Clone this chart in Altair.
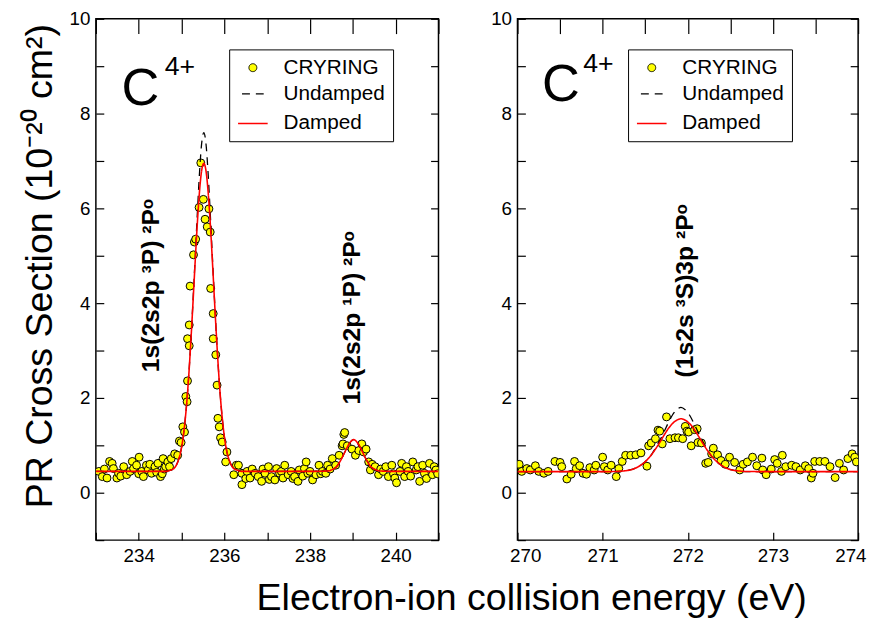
import altair as alt
import pandas as pd

FONT = "Liberation Sans"
SERIES = ["CRYRING", "Undamped", "Damped"]

# ---------------- Left panel data (233-241 eV) ----------------
left_pts_x = [233.07, 233.15, 233.20, 233.26, 233.32, 233.38, 233.41, 233.49, 233.53, 233.58,
              233.65, 233.72, 233.80, 233.85, 233.88, 233.95, 234.00, 234.01, 234.07, 234.11,
              234.18, 234.22, 234.26, 234.30, 234.38, 234.42, 234.45, 234.51, 234.55, 234.57,
              234.60, 234.63, 234.68, 234.72, 234.76, 234.84, 234.91, 234.95, 234.99, 235.03,
              235.07, 235.10, 235.13, 235.14, 235.14, 235.18, 235.18, 235.20, 235.28, 235.30,
              235.33, 235.41, 235.45, 235.51, 235.55, 235.60, 235.64, 235.67, 235.68, 235.74,
              235.74, 235.80, 235.83, 235.85, 235.88, 235.91, 235.95, 236.03, 236.06, 236.22,
              236.28, 236.33, 236.41, 236.41, 236.50, 236.53, 236.60, 236.65, 236.72, 236.79,
              236.87, 236.90, 236.95, 237.03, 237.05, 237.10, 237.18, 237.22, 237.29, 237.33,
              237.37, 237.41, 237.49, 237.56, 237.60, 237.64, 237.72, 237.75, 237.83, 237.87,
              237.91, 237.95, 238.00, 238.06, 238.14, 238.21, 238.25, 238.29, 238.37, 238.41,
              238.47, 238.52, 238.60, 238.68, 238.75, 238.77, 238.79, 238.81, 238.87, 238.98,
              239.06, 239.14, 239.21, 239.25, 239.31, 239.37, 239.41, 239.45, 239.52, 239.60,
              239.65, 239.71, 239.77, 239.83, 239.91, 239.95, 239.98, 240.02, 240.10, 240.14,
              240.21, 240.25, 240.29, 240.35, 240.40, 240.48, 240.52, 240.56, 240.63, 240.67,
              240.72, 240.79, 240.86, 240.90, 240.94, 240.98]
left_pts_y = [0.45, 0.34, 0.50, 0.31, 0.66, 0.62, 0.51, 0.31, 0.41, 0.35,
              0.55, 0.38, 0.45, 0.66, 0.51, 0.58, 0.40, 0.75, 0.45, 0.34,
              0.58, 0.48, 0.60, 0.41, 0.55, 0.43, 0.62, 0.34, 0.40, 0.72,
              0.50, 0.55, 0.65, 0.55, 0.72, 0.82, 0.79, 1.09, 1.06, 1.39,
              1.28, 2.03, 1.92, 2.36, 3.25, 3.54, 3.10, 4.36, 5.02, 5.29,
              5.35, 6.02, 6.96, 6.19, 5.77, 5.61, 5.99, 5.50, 4.31, 3.78,
              3.25, 2.91, 2.27, 1.57, 1.39, 1.16, 1.07, 0.65, 0.86, 0.38,
              0.58, 0.58, 0.17, 0.41, 0.30, 0.45, 0.31, 0.50, 0.41, 0.34,
              0.24, 0.50, 0.41, 0.55, 0.28, 0.34, 0.27, 0.51, 0.41, 0.45,
              0.31, 0.58, 0.38, 0.45, 0.30, 0.34, 0.24, 0.48, 0.35, 0.51,
              0.65, 0.41, 0.45, 0.27, 0.38, 0.58, 0.40, 0.45, 0.41, 0.58,
              0.50, 0.72, 0.58, 0.79, 0.99, 1.03, 1.23, 1.27, 0.99, 0.92,
              0.79, 0.89, 1.03, 0.86, 0.92, 0.65, 0.48, 0.60, 0.55, 0.38,
              0.50, 0.45, 0.55, 0.34, 0.58, 0.40, 0.31, 0.21, 0.45, 0.62,
              0.34, 0.55, 0.45, 0.35, 0.65, 0.48, 0.55, 0.24, 0.58, 0.41,
              0.30, 0.62, 0.38, 0.55, 0.48, 0.40]

left_fit_x = [233.0, 234.0, 234.62, 234.72, 234.82, 234.92, 234.97, 235.02, 235.07, 235.12,
              235.17, 235.22, 235.27, 235.32, 235.37, 235.42, 235.47, 235.52, 235.57, 235.62,
              235.67, 235.72, 235.77, 235.82, 235.87, 235.92, 235.97, 236.02, 236.07, 236.12,
              236.22, 236.32, 236.42, 237.0, 238.0, 238.42, 238.52, 238.62, 238.72, 238.82,
              238.92, 239.02, 239.12, 239.22, 239.32, 239.42, 239.52, 239.62, 240.0, 241.0]
left_damped_y = [0.45, 0.45, 0.45, 0.47, 0.51, 0.67, 0.82, 1.06, 1.41, 1.88,
                 2.49, 3.23, 4.05, 4.90, 5.70, 6.36, 6.80, 6.95, 6.80, 6.36,
                 5.70, 4.90, 4.05, 3.23, 2.49, 1.88, 1.41, 1.06, 0.82, 0.67,
                 0.51, 0.47, 0.45, 0.45, 0.45, 0.46, 0.49, 0.55, 0.69, 0.87,
                 1.04, 1.12, 1.04, 0.87, 0.69, 0.55, 0.49, 0.46, 0.45, 0.45]
left_undamped_y = [0.45, 0.45, 0.45, 0.47, 0.51, 0.67, 0.82, 1.06, 1.41, 1.88,
                   2.49, 3.23, 4.08, 4.99, 5.91, 6.75, 7.37, 7.60, 7.37, 6.75,
                   5.91, 4.99, 4.08, 3.23, 2.49, 1.88, 1.41, 1.06, 0.82, 0.67,
                   0.51, 0.47, 0.45, 0.45, 0.45, 0.46, 0.49, 0.55, 0.69, 0.87,
                   1.04, 1.12, 1.04, 0.87, 0.69, 0.55, 0.49, 0.46, 0.45, 0.45]

# ---------------- Right panel data (270-274 eV) ----------------
right_pts_x = [270.02, 270.05, 270.11, 270.15, 270.21, 270.25, 270.31, 270.36, 270.44, 270.50,
               270.52, 270.58, 270.63, 270.67, 270.69, 270.73, 270.77, 270.81, 270.85, 270.90,
               270.92, 271.00, 271.02, 271.06, 271.10, 271.16, 271.19, 271.23, 271.27, 271.33,
               271.39, 271.45, 271.52, 271.54, 271.57, 271.62, 271.65, 271.67, 271.70, 271.75,
               271.79, 271.85, 271.89, 271.94, 271.97, 271.99, 272.01, 272.04, 272.08, 272.11,
               272.12, 272.16, 272.21, 272.24, 272.28, 272.30, 272.35, 272.39, 272.44, 272.49,
               272.55, 272.61, 272.65, 272.70, 272.76, 272.81, 272.87, 272.88, 272.92, 272.98,
               273.02, 273.05, 273.10, 273.11, 273.15, 273.22, 273.27, 273.32, 273.38, 273.42,
               273.45, 273.47, 273.49, 273.55, 273.61, 273.67, 273.73, 273.78, 273.83, 273.88,
               273.93, 273.96, 273.98]
right_pts_y = [0.60, 0.45, 0.51, 0.48, 0.57, 0.45, 0.41, 0.45, 0.66, 0.64,
               0.55, 0.29, 0.39, 0.66, 0.51, 0.57, 0.41, 0.39, 0.53, 0.48,
               0.58, 0.75, 0.55, 0.48, 0.58, 0.34, 0.51, 0.66, 0.79, 0.79,
               0.80, 0.84, 0.56, 0.99, 1.05, 1.14, 1.32, 1.30, 1.03, 1.60,
               1.14, 1.16, 1.16, 1.14, 1.40, 1.30, 1.28, 0.99, 1.33, 1.35,
               1.06, 1.05, 0.62, 0.64, 0.82, 0.94, 0.80, 0.68, 0.60, 0.75,
               0.64, 0.48, 0.60, 0.65, 0.75, 0.57, 0.73, 0.48, 0.38, 0.50,
               0.70, 0.62, 0.45, 0.79, 0.55, 0.58, 0.55, 0.48, 0.57, 0.51,
               0.31, 0.41, 0.66, 0.66, 0.66, 0.55, 0.32, 0.62, 0.48, 0.72,
               0.82, 0.75, 0.65]

right_fit_x = [270.0, 271.0, 271.12, 271.22, 271.32, 271.42, 271.47, 271.52, 271.57, 271.62,
               271.67, 271.72, 271.77, 271.82, 271.87, 271.92, 271.97, 272.02, 272.07, 272.12,
               272.17, 272.22, 272.27, 272.32, 272.37, 272.42, 272.52, 272.62, 272.72, 273.0,
               274.0]
right_damped_y = [0.445, 0.445, 0.447, 0.456, 0.48, 0.55, 0.61, 0.69, 0.795, 0.92,
                  1.06, 1.21, 1.35, 1.46, 1.53, 1.56, 1.53, 1.46, 1.35, 1.21,
                  1.06, 0.92, 0.795, 0.69, 0.61, 0.55, 0.48, 0.456, 0.447, 0.445,
                  0.445]
right_undamped_y = [0.445, 0.445, 0.447, 0.456, 0.48, 0.55, 0.61, 0.69, 0.795, 0.94,
                    1.10, 1.28, 1.47, 1.64, 1.75, 1.80, 1.75, 1.64, 1.47, 1.28,
                    1.10, 0.94, 0.795, 0.69, 0.61, 0.55, 0.48, 0.456, 0.447, 0.445,
                    0.445]

# ---------------- Ticks and annotations ----------------
left_xticks = [233, 234, 235, 236, 237, 238, 239, 240, 241]
right_xticks = [270, 270.5, 271, 271.5, 272, 272.5, 273, 273.5, 274]
yticks = [-1, 0, 1, 2, 3, 4, 5, 6, 7, 8, 9, 10]

left_ion_x, left_ion_y, left_sup_x, left_sup_y = [234.04], [8.19], [234.96], [8.81]
right_ion_x, right_ion_y, right_sup_x, right_sup_y = [270.51], [8.27], [270.95], [8.88]
left_state_text = ["1s(2s2p ³P) ²Pᵒ", "1s(2s2p ¹P) ²Pᵒ"]
left_state_x = [234.30, 238.99]
left_state_y = [4.37, 3.69]
right_state_text = ["(1s2s ³S)3p ²Pᵒ"]
right_state_x = [271.97]
right_state_y = [4.26]

PLOT_H = 528


def panel(pts_x, pts_y, fit_x, und_y, dam_y, xdom, xticks, lab_expr, ion, sup, states,
          legend_x, ytitle, width, flush):
    pts = pd.DataFrame({"x": pts_x, "y": pts_y, "series": "CRYRING"})
    und = pd.DataFrame({"x": fit_x, "y": und_y, "series": "Undamped"})
    dam = pd.DataFrame({"x": fit_x, "y": dam_y, "series": "Damped"})

    leg = alt.Legend(title=None, orient="none", legendX=legend_x, legendY=31,
                     labelFont=FONT, labelFontSize=21, labelColor="black",
                     labelOffset=15, padding=8, rowPadding=4,
                     strokeColor="black", fillColor="white", cornerRadius=0)

    def fill():
        return alt.Fill("series:N", scale=alt.Scale(domain=SERIES, range=["#ffff00", "transparent", "transparent"]), legend=leg)

    def stroke():
        return alt.Stroke("series:N", scale=alt.Scale(domain=SERIES, range=["black", "black", "#ff0000"]), legend=leg)

    def shape():
        return alt.Shape("series:N", scale=alt.Scale(domain=SERIES, range=["circle", "stroke", "stroke"]), legend=leg)

    def size():
        return alt.Size("series:N", scale=alt.Scale(domain=SERIES, range=[64, 900, 900]), legend=leg)

    def sdash():
        return alt.StrokeDash("series:N", scale=alt.Scale(domain=SERIES, range=[[1, 0], [8, 6], [1, 0]]), legend=leg)

    def swidth():
        return alt.StrokeWidth("series:N", scale=alt.Scale(domain=SERIES, range=[1, 1.6, 2.6]), legend=leg)

    xs = alt.Scale(domain=xdom, nice=False, zero=False)
    ys = alt.Scale(domain=[-1, 10], nice=False, zero=False)

    bx = dict(orient="bottom", values=xticks, labelExpr=lab_expr, format="d",
              tickSize=8, offset=-8, domain=False, grid=False, labelPadding=7,
              labelFont=FONT, labelFontSize=19, labelColor="black",
              tickColor="black", tickWidth=1.2, title=None)
    if flush:
        bottom_axis = alt.Axis(labelFlush=True, labelFlushOffset=8, **bx)
    else:
        bottom_axis = alt.Axis(labelFlush=False, **bx)
    top_axis = alt.Axis(orient="top", values=xticks, labels=False, tickSize=15, offset=-15,
                        domain=False, grid=False, tickColor="black", tickWidth=1.2, title=None)
    left_kw = dict(orient="left", values=yticks, format="d",
                   labelExpr="datum.value % 2 === 0 ? datum.label : ''",
                   tickSize=8, offset=-8, domain=False, grid=False, labelPadding=6,
                   labelFont=FONT, labelFontSize=19, labelColor="black",
                   tickColor="black", tickWidth=1.2, labelFlush=False)
    if ytitle:
        left_axis = alt.Axis(title=ytitle, titleFont=FONT, titleFontSize=38,
                             titleFontWeight="normal", titleColor="black", titlePadding=10,
                             titleY=250, **left_kw)
    else:
        left_axis = alt.Axis(title=None, **left_kw)
    right_axis = alt.Axis(orient="right", values=yticks, labels=False, tickSize=8, offset=-8,
                          domain=False, grid=False, tickColor="black", tickWidth=1.2, title=None)

    points = alt.Chart(pts).mark_point(filled=True, opacity=1, clip=True).encode(
        x=alt.X("x:Q", scale=xs, axis=bottom_axis),
        y=alt.Y("y:Q", scale=ys, axis=left_axis),
        fill=fill(), stroke=stroke(), shape=shape(), size=size(), strokeWidth=swidth(),
    )
    undamped = alt.Chart(und).mark_line(interpolate="monotone", clip=True).encode(
        x=alt.X("x:Q", scale=xs, axis=top_axis),
        y=alt.Y("y:Q", scale=ys, axis=right_axis),
        stroke=stroke(), strokeDash=sdash(), strokeWidth=swidth(),
    )
    damped = alt.Chart(dam).mark_line(interpolate="monotone", clip=True).encode(
        x=alt.X("x:Q", scale=xs, axis=None),
        y=alt.Y("y:Q", scale=ys, axis=None),
        stroke=stroke(), strokeDash=sdash(), strokeWidth=swidth(),
    )

    ion_df = pd.DataFrame({"x": ion[0], "y": ion[1], "t": ["C"]})
    sup_df = pd.DataFrame({"x": sup[0], "y": sup[1], "t": ["4+"]})
    st_df = pd.DataFrame({"x": states[1], "y": states[2], "t": states[0]})

    ion_txt = alt.Chart(ion_df).mark_text(font=FONT, fontSize=53, align="center",
                                          baseline="alphabetic", color="black").encode(
        x=alt.X("x:Q", scale=xs, axis=None), y=alt.Y("y:Q", scale=ys, axis=None), text="t:N")
    sup_txt = alt.Chart(sup_df).mark_text(font=FONT, fontSize=27, align="center",
                                          baseline="alphabetic", color="black").encode(
        x=alt.X("x:Q", scale=xs, axis=None), y=alt.Y("y:Q", scale=ys, axis=None), text="t:N")
    st_txt = alt.Chart(st_df).mark_text(font=FONT, fontSize=25, fontWeight="bold", angle=270,
                                        align="center", baseline="middle", color="black").encode(
        x=alt.X("x:Q", scale=xs, axis=None), y=alt.Y("y:Q", scale=ys, axis=None), text="t:N")

    return alt.layer(points, undamped, damped, ion_txt, sup_txt, st_txt).resolve_axis(
        x="independent", y="independent"
    ).properties(width=width, height=PLOT_H)


left = panel(left_pts_x, left_pts_y, left_fit_x, left_undamped_y, left_damped_y,
             [233, 241], left_xticks, "datum.value % 2 === 0 ? datum.label : ''",
             (left_ion_x, left_ion_y), (left_sup_x, left_sup_y),
             (left_state_text, left_state_x, left_state_y),
             135, "PR Cross Section (10⁻²⁰ cm²)", 347, False)
right = panel(right_pts_x, right_pts_y, right_fit_x, right_undamped_y, right_damped_y,
              [270, 274], right_xticks, "datum.value % 1 === 0 ? datum.label : ''",
              (right_ion_x, right_ion_y), (right_sup_x, right_sup_y),
              (right_state_text, right_state_x, right_state_y),
              112, None, 345, True)

chart = alt.hconcat(left, right, spacing=50).resolve_scale(
    x="independent", y="independent", fill="independent", stroke="independent",
    shape="independent", size="independent", strokeDash="independent", strokeWidth="independent"
).resolve_legend(
    fill="independent", stroke="independent", shape="independent", size="independent",
    strokeDash="independent", strokeWidth="independent"
).properties(
    padding={"left": 13, "top": -3, "right": 0, "bottom": 0},
    title=alt.TitleParams(text="Electron-ion collision energy (eV)", orient="bottom",
                          anchor="middle", font=FONT, fontSize=38, fontWeight="normal",
                          color="black", offset=14, dx=89),
).configure_view(stroke="black", strokeWidth=1.5)

chart.save("out.html", embed_options={"renderer": "svg", "actions": False})
